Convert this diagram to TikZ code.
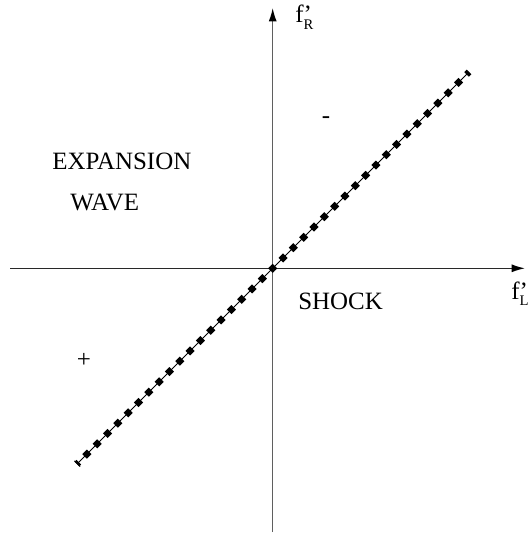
\documentclass[tikz,border=0pt]{standalone}
\usepackage{fontspec}
\setmainfont{Liberation Serif}
\usepackage{tikz}
\usetikzlibrary{arrows.meta,positioning}
\definecolor{axisgray}{RGB}{95,95,95}
\definecolor{axisdark}{RGB}{40,40,40}
\tikzset{
  axis/.style={-{Latex[length=10pt,width=6pt,black]}, line width=1pt},
  shockline/.style={line width=0.75pt, draw=black},
  shockdots/.style={line width=4.8pt, dash pattern=on 4.8pt off 6.15pt, dash phase=2.4pt, draw=black},
  lbl/.style={font=\fontsize{18.7}{22}\selectfont, inner sep=0pt}
}
\newcommand{\primed}[1]{f\rlap{’}\raisebox{-5pt}{\fontsize{11}{12}\selectfont #1}}
\begin{document}
\begin{tikzpicture}[x=0.75pt, y=-0.75pt]
        \useasboundingbox (0,0) rectangle (529,534);
        % axes
        \coordinate (o) at (272.7,268.3);
        \coordinate (xl) at (10,268.3);
        \coordinate (xr) at (525,268.3);
        \coordinate (yb) at (272.7,532);
        \coordinate (yt) at (272.7,8);
        \draw[axis, draw=axisdark] (xl) -- (xr);
        \draw[axis, draw=axisgray] (yb) -- (yt);
        % diagonal, one dot sits on the origin
        \coordinate (lo) at (77,464);
        \coordinate (hi) at (469,72);
        \draw[shockline, {Bar[width=6pt]}-] (lo) -- (hi);
        \draw[shockdots] (o) -- (lo);
        \draw[shockdots] (o) -- (hi);
        % labels
        \node[lbl, anchor=base west] (fr) at (295,23) {\primed{R}};
        \node[lbl, anchor=base west] (fl) at (511,299) {\primed{L}};
        \node[lbl] (minus) at (326,120) {-};
        \node[lbl, anchor=base west] (exp) at (52,170) {EXPANSION};
        \node[lbl, anchor=base west] (wave) at (70,211) {WAVE};
        \node[lbl, anchor=base west] (shock) at (298,309) {SHOCK};
        \node[lbl] (plus) at (84,360) {+};
\end{tikzpicture}
\end{document}
